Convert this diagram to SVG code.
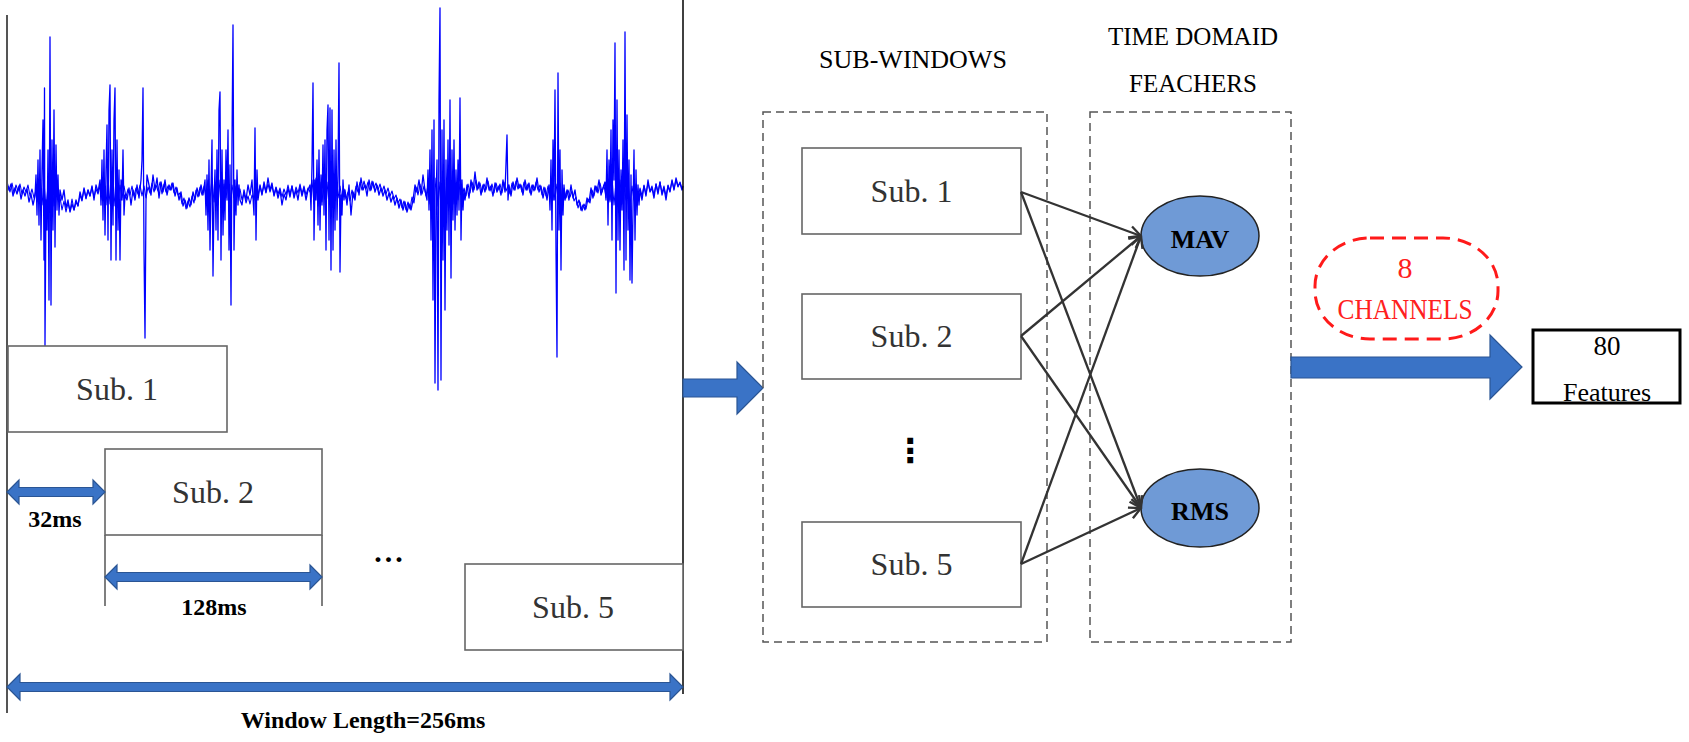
<svg xmlns="http://www.w3.org/2000/svg" width="1689" height="742" viewBox="0 0 1689 742">
<style>
.box{fill:#fff;stroke:#666;stroke-width:1.6}
.sub{font-family:"Liberation Serif",serif;font-size:32px;fill:#333;text-anchor:middle}
.lbl{font-family:"Liberation Serif",serif;fill:#000;text-anchor:middle}
.s24{font-size:24px}
.s25{font-size:25px}
.s26{font-size:26px}
.s27{font-size:27px}
.b{font-weight:bold}
.red{font-family:"Liberation Serif",serif;font-size:30px;fill:#ff2020;text-anchor:middle}
.dash{fill:none;stroke:#555;stroke-width:1.5;stroke-dasharray:8 5}
.barrow{fill:#3a73c6;stroke:#2a5594;stroke-width:1.2}
.ell{fill:#6f9ad6;stroke:#222;stroke-width:1.5}
.conn{stroke:#333;stroke-width:2.3;fill:none;marker-end:url(#ah)}
.sig{fill:none;stroke:#0000ff;stroke-linejoin:round}
</style>
<defs>
<marker id="ah" viewBox="0 0 12 12" refX="11" refY="6" markerWidth="14" markerHeight="14" markerUnits="userSpaceOnUse" orient="auto">
<path d="M1,1 L11,6 L1,11" fill="none" stroke="#333" stroke-width="2"/>
</marker>
</defs>
<rect width="1689" height="742" fill="#fff"/>

<g id="signal-panel">
<path class="sig" stroke-width="1.3" d="M7,182 L9,190 11,184 13,196 15,188 17,194 19,186 21,199 23,190 25,196 27,189 29,202 31,194 33,205 35,196 36,175 37,215 38,160 39,225 40,150 41,240 42,170 43,120 44,260 44.5,88 45,346 46,200 47,230 48,150 49,300 50,37 51,305 52,140 53,230 54,110 55,247 56,145 57,210 58,175 59,215 60,190 62,200 64,190 66,208 68,200 70,212 72,204 74,210 76,200 78,206 80,192 82,200 84,188 86,198 88,190 90,196 92,186 94,200 96,185 98,192 100,180 101,205 102,160 103,220 104,150 105,235 106,170 107,125 108,240 109,110 110,85 111,260 112,150 113,225 114,120 115,88 116,260 117,140 118,230 119,170 120,260 121,180 122,200 123,150 124,215 125,195 127,200 129,188 131,205 133,190 135,200 137,185 139,198 141,180 142,160 143,88 144,250 145,338 146,200 147,175 149,185 151,195 153,175 155,190 157,178 159,198 161,182 163,192 165,180 167,195 169,185 171,190 173,183 175,196 177,188 179,200 181,192 183,206 185,200 187,208 189,198 191,205 193,192 195,200 197,188 199,196 201,185 203,195 205,180 206,215 207,175 208,230 209,160 210,250 211,190 212,140 213,276 214,200 215,170 216,230 217,150 218,240 219,110 220,92 221,260 222,150 223,235 224,180 225,220 226,150 227,200 228,130 229,250 230,165 231,305 232,140 233,25 234,250 235,180 236,215 237,170 238,205 239,185 240,200 242,205 244,190 246,200 248,185 250,195 252,180 254,215 255,128 256,240 257,170 258,200 260,185 262,195 264,182 266,192 268,178 270,190 272,183 274,196 276,188 278,198 280,190 282,205 284,194 286,200 288,188 290,197 292,186 294,198 296,190 298,200 300,186 302,196 304,188 306,200 308,190 310,185 311,210 312,165 313,83 314,240 315,180 316,200 317,160 318,225 319,150 320,230 321,175 322,205 323,145 324,215 325,140 326,250 327,130 328,105 329,240 330,108 331,270 332,110 333,250 334,150 335,230 336,140 337,220 338,175 339,63 340,272 341,195 342,215 343,180 344,200 345,190 347,205 349,185 351,215 353,192 355,200 357,182 359,195 361,178 363,190 365,185 367,196 369,180 371,190 373,182 375,192 377,185 379,195 381,188 383,196 385,190 387,200 389,193 391,202 393,196 395,205 397,198 399,208 401,200 403,210 405,202 407,212 409,204 411,210 413,200 415,185 417,192 419,180 421,195 423,175 425,190 427,200 428,170 429,210 430,150 431,240 432,130 433,300 434,120 435,383 436,200 437,160 438,390 439,100 440,8 441,380 442,130 443,260 444,120 445,310 446,160 447,230 448,140 449,245 450,100 451,278 452,150 453,220 454,140 455,230 456,170 457,215 458,160 459,210 460,98 461,240 462,180 463,210 464,190 465,200 467,185 469,198 471,180 473,192 475,172 477,190 479,182 481,195 483,185 485,192 487,178 489,190 491,186 493,196 495,183 497,192 499,186 501,195 503,180 505,192 507,135 508,200 509,185 511,196 513,182 515,190 517,178 519,188 521,185 523,195 525,180 527,190 529,183 531,195 533,185 535,190 537,178 539,192 541,186 543,198 545,188 547,200 549,185 550,210 551,160 552,230 553,140 554,200 555,90 556,250 557,357 558,73 559,230 560,150 561,270 562,170 563,215 564,185 565,200 567,190 569,200 571,185 573,198 575,190 577,205 579,200 581,210 583,205 585,210 587,198 589,202 591,188 593,198 595,186 597,192 599,180 601,195 603,188 605,182 606,200 607,150 608,225 609,160 610,200 611,130 612,240 613,120 614,180 615,43 616,293 617,100 618,240 619,150 620,250 621,170 622,210 623,140 624,270 625,32 626,260 627,115 628,230 629,160 630,280 631,175 632,283 633,210 634,150 635,240 636,170 637,215 638,185 639,205 640,190 642,200 644,186 646,196 648,180 650,192 652,188 654,198 656,184 658,194 660,182 662,195 664,188 666,200 668,186 670,192 672,180 674,190 676,178 678,186 680,183 682,190 683,186"/>
<path class="sig" stroke-width="1.1" d="M8,186 L10,192 12,183 14,193 16,185 18,191 20,184 22,194 24,187 26,192 28,185 30,196 32,189 34,198 36,190 38,202 40,185 42,205 44,182 46,208 48,186 50,200 52,180 54,206 56,188 58,200 60,197 62,210 64,201 66,212 68,203 70,211 72,199 74,210 76,202 78,206 80,195 82,201 84,189 86,199 88,190 90,196 92,187 94,197 96,189 98,194 100,186 102,200 104,180 106,205 108,178 110,204 112,182 114,206 116,180 118,200 120,185 122,198 124,186 126,197 128,189 130,195 132,186 134,196 136,188 138,194 140,185 142,196 144,186 146,198 148,187 150,193 152,183 154,192 156,185 158,191 160,182 162,194 164,184 166,192 168,186 170,190 172,183 174,193 176,187 178,195 180,193 182,204 184,198 186,209 188,201 190,207 192,196 194,203 196,190 198,197 200,187 202,195 204,186 206,198 208,180 210,200 212,178 214,202 216,182 218,205 220,180 222,200 224,184 226,198 228,182 230,204 232,185 234,198 236,186 238,196 240,189 242,200 244,193 246,203 248,196 250,204 252,195 254,200 256,187 258,196 260,186 262,194 264,185 266,193 268,184 270,192 272,186 274,195 276,187 278,194 280,188 282,197 284,189 286,195 288,185 290,194 292,186 294,196 296,187 298,193 300,184 302,194 304,186 306,195 308,188 310,192 312,180 314,204 316,178 318,206 320,182 322,202 324,180 326,205 328,182 330,200 332,184 334,202 336,183 338,198 340,186 342,200 344,189 346,199 348,192 350,201 352,190 354,198 356,186 358,192 360,182 362,190 364,181 366,189 368,182 370,191 372,181 374,188 376,183 378,190 380,184 382,192 384,186 386,194 388,188 390,196 392,191 394,199 396,195 398,203 400,199 402,208 404,201 406,210 408,202 410,209 412,197 414,203 416,187 418,195 420,184 422,194 424,186 426,196 428,185 430,204 432,180 434,208 436,178 438,206 440,182 442,210 444,180 446,206 448,184 450,208 452,182 454,204 456,186 458,200 460,184 462,198 464,188 466,196 468,184 470,193 472,182 474,190 476,180 478,189 480,183 482,192 484,184 486,190 488,181 490,191 492,184 494,193 496,183 498,190 500,184 502,193 504,182 506,191 508,186 510,194 512,183 514,190 516,181 518,189 520,184 522,192 524,182 526,190 528,184 530,193 532,185 534,191 536,182 538,190 540,185 542,195 544,187 546,196 548,186 550,195 552,182 554,200 556,184 558,198 560,183 562,200 564,188 566,198 568,190 570,197 572,191 574,201 576,197 578,208 580,202 582,211 584,204 586,209 588,199 590,203 592,190 594,196 596,186 598,193 600,183 602,192 604,185 606,198 608,180 610,202 612,178 614,205 616,182 618,200 620,180 622,204 624,184 626,200 628,182 630,206 632,186 634,200 636,184 638,198 640,188 642,196 644,185 646,194 648,183 650,191 652,186 654,195 656,184 658,192 660,182 662,193 664,186 666,196 668,185 670,191 672,181 674,189 676,180 678,187 680,182 682,189"/>
<line x1="7" y1="15" x2="7" y2="713" stroke="#555" stroke-width="2"/>
<line x1="683" y1="0" x2="683" y2="694" stroke="#000" stroke-width="1.5"/>
<line x1="105" y1="535" x2="105" y2="606" stroke="#555" stroke-width="1.5"/>
<line x1="322" y1="535" x2="322" y2="606" stroke="#555" stroke-width="1.5"/>
</g>

<g id="left-sub1"><rect class="box" x="8" y="346" width="219" height="86"/><text class="sub" x="117" y="400">Sub. 1</text></g>
<g id="left-sub2"><rect class="box" x="105" y="449" width="217" height="86"/><text class="sub" x="213" y="503">Sub. 2</text></g>
<g id="left-sub5"><rect class="box" x="465" y="564" width="218" height="86"/><text class="sub" x="573" y="618">Sub. 5</text></g>

<g id="dim-32ms">
<polygon class="barrow" points="7,492 19,480 19,487.5 93,487.5 93,480 105,492 93,504 93,496.5 19,496.5 19,504"/>
<text class="lbl s24 b" x="55" y="527">32ms</text>
</g>
<g id="dim-128ms">
<polygon class="barrow" points="105,577 117,565 117,572.5 310,572.5 310,565 322,577 310,589 310,581.5 117,581.5 117,589"/>
<text class="lbl s24 b" x="214" y="615">128ms</text>
</g>
<g id="ellipsis-h"><text class="lbl b" x="390" y="562" style="font-size:30px;letter-spacing:3px">...</text></g>
<g id="dim-window">
<polygon class="barrow" points="7,687 20,674 20,682.5 670,682.5 670,674 683,687 670,700 670,691.5 20,691.5 20,700"/>
<text class="lbl s24 b" x="363" y="728">Window Length=256ms</text>
</g>

<g id="arrow-in"><polygon class="barrow" points="683,379 737,379 737,362 763,388 737,414 737,397 683,397"/></g>

<g id="sub-windows">
<text class="lbl s26" x="913" y="68">SUB-WINDOWS</text>
<rect class="dash" x="763" y="112" width="284" height="530"/>
</g>
<g id="sub1"><rect class="box" x="802" y="148" width="219" height="86"/><text class="sub" x="911.5" y="202">Sub. 1</text></g>
<g id="sub2"><rect class="box" x="802" y="294" width="219" height="85"/><text class="sub" x="911.5" y="347">Sub. 2</text></g>
<g id="ellipsis-v"><text x="910" y="462" style="font-family:'DejaVu Sans',sans-serif;font-size:33px;font-weight:bold" text-anchor="middle" fill="#000">⋮</text></g>
<g id="sub5"><rect class="box" x="802" y="522" width="219" height="85"/><text class="sub" x="911.5" y="575">Sub. 5</text></g>

<g id="features-panel">
<text class="lbl s25" x="1193" y="45">TIME DOMAID</text>
<text class="lbl s25" x="1193" y="92">FEACHERS</text>
<rect class="dash" x="1090" y="112" width="201" height="530"/>
</g>
<g id="mav"><ellipse class="ell" cx="1200" cy="236" rx="59" ry="40"/><text class="lbl s26 b" x="1200" y="248">MAV</text></g>
<g id="rms"><ellipse class="ell" cx="1200" cy="508" rx="59" ry="39"/><text class="lbl s26 b" x="1200" y="520">RMS</text></g>

<g id="connectors">
<line class="conn" x1="1021" y1="192" x2="1141" y2="236"/>
<line class="conn" x1="1021" y1="192" x2="1141" y2="508"/>
<line class="conn" x1="1021" y1="336" x2="1141" y2="236"/>
<line class="conn" x1="1021" y1="336" x2="1141" y2="508"/>
<line class="conn" x1="1021" y1="564" x2="1141" y2="236"/>
<line class="conn" x1="1021" y1="564" x2="1141" y2="508"/>
</g>

<g id="channels">
<rect x="1315" y="238" width="183" height="101" rx="55" ry="48" fill="none" stroke="#ff1a1a" stroke-width="3" stroke-dasharray="14 8"/>
<text class="red" x="1405" y="278">8</text>
<text class="red" x="1405" y="319" textLength="135" lengthAdjust="spacingAndGlyphs">CHANNELS</text>
</g>
<g id="arrow-out"><polygon class="barrow" points="1291,357 1490,357 1490,335 1522,367 1490,399 1490,378 1291,378"/></g>
<g id="features-out">
<rect x="1533" y="330" width="147" height="73" fill="#fff" stroke="#000" stroke-width="3"/>
<text class="lbl s27" x="1607" y="355">80</text>
<text class="lbl s26" x="1607" y="401">Features</text>
</g>
</svg>
